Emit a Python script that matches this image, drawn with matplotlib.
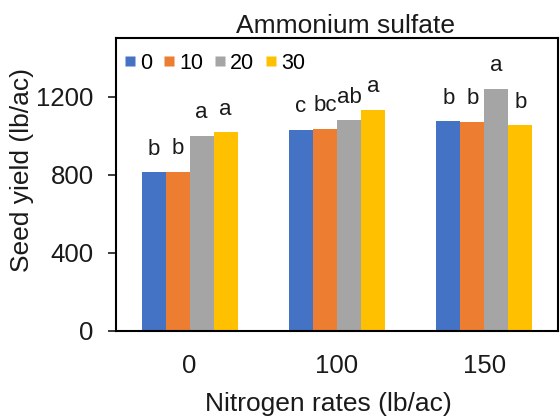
import matplotlib
matplotlib.use("Agg")
import matplotlib.pyplot as plt
from matplotlib.lines import Line2D
import numpy as np

plt.rcParams['font.family'] = ['Liberation Sans', 'DejaVu Sans']

categories = ["0", "100", "150"]
series_names = ["0", "10", "20", "30"]
values = {
    "0":  [812, 1032, 1075],
    "10": [815, 1036, 1072],
    "20": [1001, 1080, 1241],
    "30": [1019, 1133, 1053],
}
letters = {
    "0":  ["b", "c", "b"],
    "10": ["b", "bc", "b"],
    "20": ["a", "ab", "a"],
    "30": ["a", "a", "b"],
}
yticks = [0, 400, 800, 1200]
colors = ["#4472C4", "#ED7D31", "#A5A5A5", "#FFC000"]

W, H = 560, 417
fig = plt.figure(figsize=(W / 100, H / 100), dpi=100)
ax = fig.add_axes([116 / W, 1 - 330.7 / H, (558 - 116) / W, (330.7 - 38.3) / H])

x = np.arange(len(categories))
bw = 0.163
n = len(series_names)
for i, s in enumerate(series_names):
    xs = x + (i - (n - 1) / 2) * bw
    ax.bar(xs, values[s], width=bw, color=colors[i], edgecolor='none', zorder=2)
    for xi, v, lab in zip(xs, values[s], letters[s]):
        ax.annotate(lab, (xi, v), xytext=(0, 12.5), textcoords='offset points',
                    ha='center', va='baseline', fontsize=16, color='#1a1a1a')

ax.set_xlim(-0.5, len(categories) - 0.5)
ax.set_ylim(0, 1500)
ax.set_yticks(yticks)
ax.set_yticklabels([str(t) for t in yticks])
ax.set_xticks(x)
ax.set_xticklabels(categories)
ax.tick_params(axis='y', length=6, width=1.2, pad=10, labelsize=18.5, direction='out', colors='#1a1a1a')
ax.tick_params(axis='x', length=0, pad=17, labelsize=18.5, colors='#1a1a1a')
for sp in ax.spines.values():
    sp.set_linewidth(1.5)
    sp.set_color('black')

handles = [Line2D([0], [0], marker='s', linestyle='none', markersize=6.5,
                  markerfacecolor=c, markeredgecolor='none') for c in colors]
ax.legend(handles, series_names, loc='upper left', bbox_to_anchor=(0.02, 0.95),
          ncol=4, frameon=False, fontsize=15.5, handlelength=0.45,
          handletextpad=0.25, columnspacing=0.55, borderpad=0, borderaxespad=0)

fig.text(345 / W, 1 - 33 / H, "Ammonium sulfate", ha='center', va='baseline',
         fontsize=19, color='#1a1a1a')
fig.text(328 / W, 1 - 411 / H, "Nitrogen rates (lb/ac)", ha='center', va='baseline',
         fontsize=19, color='#1a1a1a')
fig.text(22 / W, 1 - 170 / H, "Seed yield (lb/ac)", ha='center', va='center',
         rotation=90, fontsize=19, color='#1a1a1a')

fig.savefig("out.png", dpi=100)
